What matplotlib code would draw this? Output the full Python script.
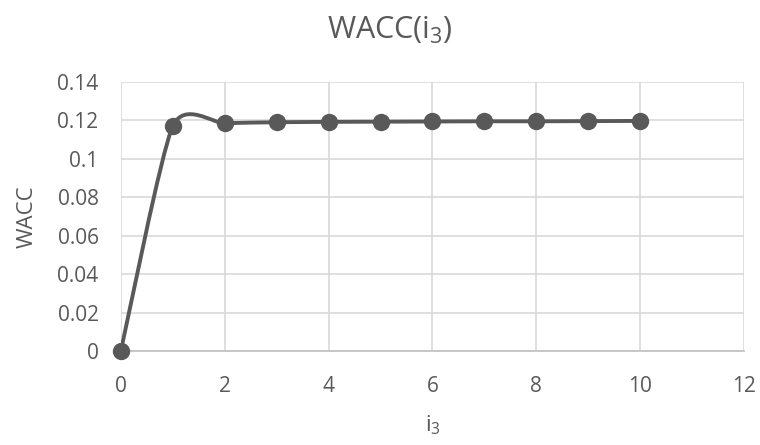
import matplotlib
matplotlib.use("Agg")
import matplotlib.pyplot as plt
from matplotlib.path import Path
from matplotlib.patches import PathPatch
import numpy as np

plt.rcParams['font.family'] = ['Open Sans', 'DejaVu Sans']
plt.rcParams['mathtext.default'] = 'regular'

# data
i3 = [0, 1, 2, 3, 4, 5, 6, 7, 8, 9, 10]
wacc = [0.0, 0.117, 0.1185, 0.119, 0.1192, 0.1193, 0.1194, 0.1195, 0.1195, 0.1196, 0.1197]

line_color = '#595959'
grid_color = '#d9d9d9'
text_color = '#595959'

fig = plt.figure(figsize=(7.6, 4.45), dpi=100)
ax = fig.add_axes([0.159, 0.211, 0.82, 0.605])

# smoothed line (Bezier segments through the points, like Excel's smooth line)
t = 1 / 9
x = np.array(i3, dtype=float)
y = np.array(wacc, dtype=float)
verts = [(x[0], y[0])]
codes = [Path.MOVETO]
n = len(x)
for k in range(n - 1):
    p0 = np.array([x[max(k - 1, 0)], y[max(k - 1, 0)]])
    p1 = np.array([x[k], y[k]])
    p2 = np.array([x[k + 1], y[k + 1]])
    p3 = np.array([x[min(k + 2, n - 1)], y[min(k + 2, n - 1)]])
    c1 = p1 + (p2 - p0) * t
    c2 = p2 - (p3 - p1) * t
    verts += [tuple(c1), tuple(c2), tuple(p2)]
    codes += [Path.CURVE4] * 3
ax.add_patch(PathPatch(Path(verts, codes), facecolor='none', edgecolor=line_color,
                       lw=2.8, capstyle='round', zorder=3))
ax.plot(i3, wacc, linestyle='none', marker='o', markersize=11.5, color=line_color, zorder=4,
        clip_on=False)

ax.set_xlim(0, 12)
ax.set_ylim(0, 0.14)
ax.set_xticks(range(0, 13, 2))
ax.set_yticks(np.arange(0, 0.141, 0.02))
ax.set_yticklabels(['0', '0.02', '0.04', '0.06', '0.08', '0.1', '0.12', '0.14'])
ax.grid(True, color=grid_color, lw=1.2)
ax.set_axisbelow(True)
for s in ['top', 'right', 'left']:
    ax.spines[s].set_visible(False)
ax.spines['bottom'].set_color('#bfbfbf')
ax.spines['bottom'].set_linewidth(1.2)
ax.tick_params(length=0, labelsize=15, colors=text_color)
ax.tick_params(axis='x', pad=18)
ax.tick_params(axis='y', pad=16)

ax.set_xlabel('i$_3$', fontsize=16, color=text_color, labelpad=12)
ax.set_ylabel('WACC', fontsize=16, color=text_color, labelpad=14)
fig.text(0.513, 0.932, 'WACC(i$_3$)', fontsize=22, color=text_color, ha='center', va='center')

fig.savefig('out.png', dpi=100)
